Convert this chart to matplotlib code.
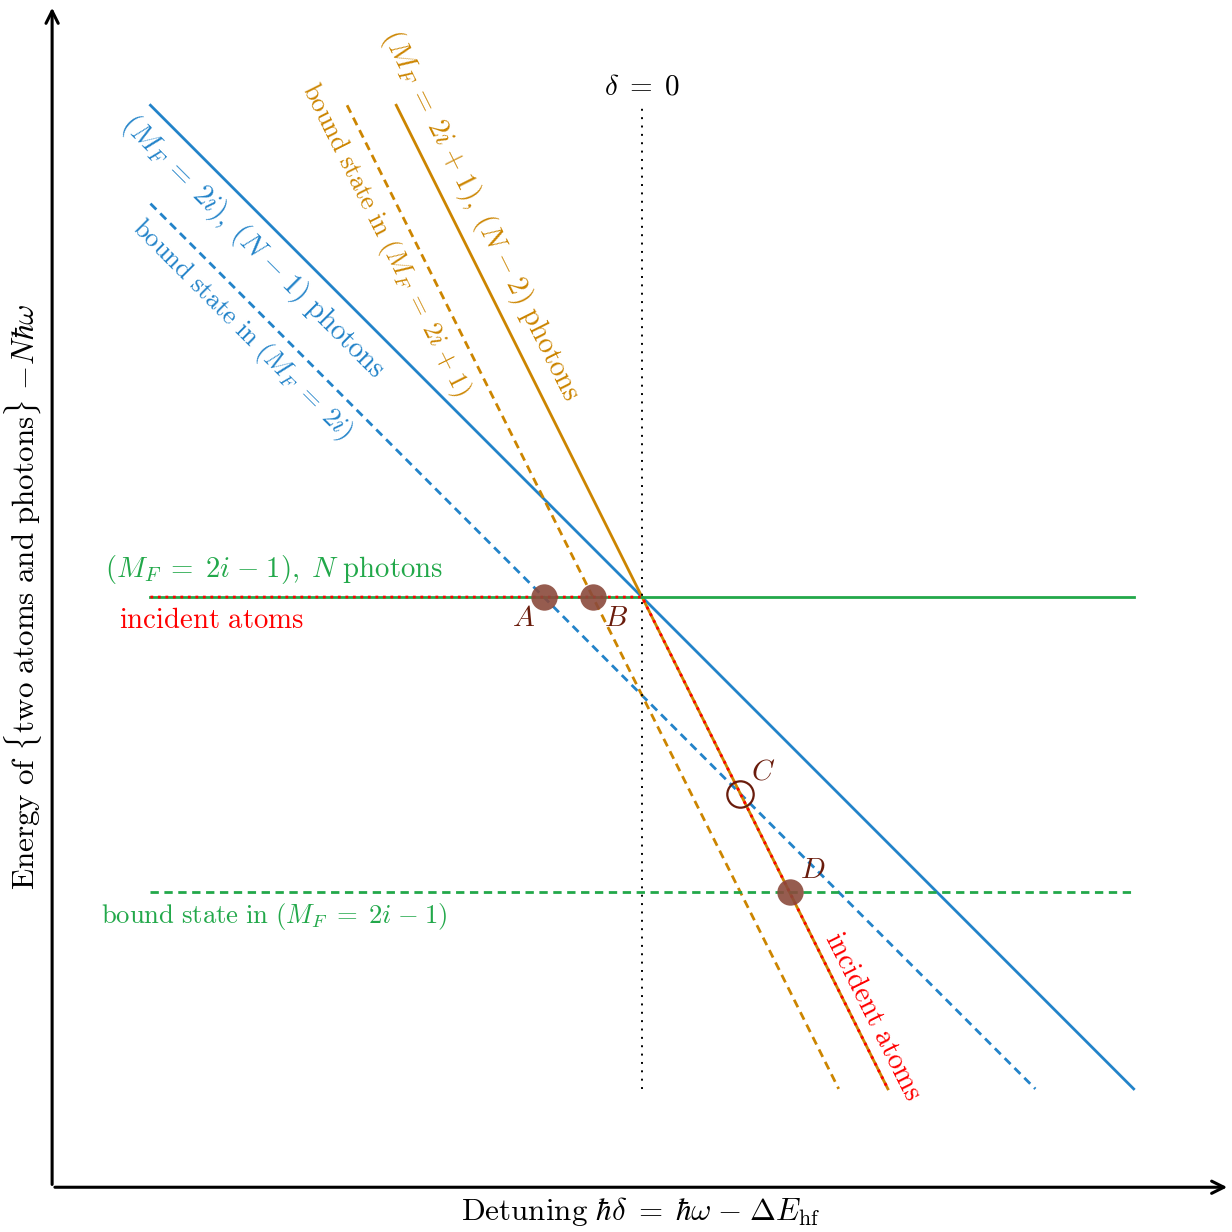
import numpy as np
import matplotlib.pyplot as plt

plt.rcParams['font.family'] = 'serif'
plt.rcParams['font.serif'] = ['cmr10']
plt.rcParams['mathtext.fontset'] = 'cm'
plt.rcParams['axes.unicode_minus'] = False

# line families y = slope*x + offset, drawn over x in [x_start, x_end]
x_span = [-10, 10]
blue_slope, blue_off, blue_bound_off = -1, 0, -2
orange_slope, orange_off, orange_bound_off = -2, 0, -2
green_level, green_bound_level = 0, -6
y_span = [-10, 10]

# special crossing points (detuning, energy)
pt_labels = ['A', 'B', 'C', 'D']
pt_x = [-2, -1, 2, 3]
pt_y = [0, 0, -4, -6]
pt_filled = [True, True, False, True]

blue = '#2283c9'
orange = '#cc8500'
green = '#22a84a'
red = '#ff0000'
brown = '#8b4a3c'
darkbrown = '#6a1c0c'

dpi = 100
fig = plt.figure(figsize=(1232/dpi, 1232/dpi), dpi=dpi)
ax = fig.add_axes([0, 0, 1, 1])
ax.set_xlim(-13.06, 12.0)
ax.set_ylim(-12.91, 12.14)
ax.axis('off')

def line_x(slope, off):
    # clip the line to the y range
    xa = (y_span[1] - off) / slope
    xb = (y_span[0] - off) / slope
    xa, xb = max(min(xa, xb), x_span[0]), min(max(xa, xb), x_span[1])
    return np.array([xa, xb])

def tx(s):
    # upright text inside mathtext, tex-like word spacing
    return r'\mathrm{' + s.replace(' ', r'\ ') + '}'

lw = 2.0
dash = (0, (3, 2))
# blue
xs = line_x(blue_slope, blue_off)
ax.plot(xs, blue_slope*xs + blue_off, color=blue, lw=lw)
xs = line_x(blue_slope, blue_bound_off)
ax.plot(xs, blue_slope*xs + blue_bound_off, color=blue, lw=lw, ls=dash)
# orange
xs = line_x(orange_slope, orange_off)
ax.plot(xs, orange_slope*xs + orange_off, color=orange, lw=lw)
xs = line_x(orange_slope, orange_bound_off)
ax.plot(xs, orange_slope*xs + orange_bound_off, color=orange, lw=lw, ls=dash)
# green
ax.plot(x_span, [green_level]*2, color=green, lw=lw)
ax.plot(x_span, [green_bound_level]*2, color=green, lw=lw, ls=dash)

# incident atoms path (red dotted)
xs_o = line_x(orange_slope, orange_off)
ax.plot([x_span[0], 0, xs_o[1]], [green_level, green_level, orange_slope*xs_o[1]],
        color=red, lw=2.0, ls=(0, (1, 1.7)))

# delta = 0
ax.plot([0, 0], y_span, color='black', lw=1.4, ls=(0, (1, 3.3)))
ax.text(0, 10.37, r'$\delta\;{=}\;0$', ha='center', va='center', fontsize=21)

# points
for lab, x, y, f in zip(pt_labels, pt_x, pt_y, pt_filled):
    if f:
        ax.plot(x, y, 'o', ms=19, color=brown, alpha=0.9, mec='none', zorder=5)
    else:
        ax.plot(x, y, 'o', ms=19, mfc='none', mec=darkbrown, mew=1.6, zorder=5)
offs = {'A': (-0.42, -0.45), 'B': (0.47, -0.45), 'C': (0.47, 0.44), 'D': (0.47, 0.44)}
for lab, x, y in zip(pt_labels, pt_x, pt_y):
    dx, dy = offs[lab]
    ax.text(x + dx, y + dy, '$' + lab + '$', color=darkbrown, fontsize=21,
            ha='center', va='center')

# labels
fs = 20.7
fs_small = 19.2
ang_b = -45
ang_o = -np.degrees(np.arctan(2))
EQ = r'\;{=}\;'
MI = r'\;{-}\;'
PL = r'\;{+}\;'
BS = tx('bound state in ')
PH = tx(' photons')
ax.text(-7.91, 7.12, rf'$(M_F{EQ}2i),\;(N{MI}1){PH}$', color=blue, fontsize=fs,
        rotation=ang_b, rotation_mode='anchor', ha='center', va='center')
ax.text(-8.13, 5.43, rf'${BS}(M_F{EQ}2i)$', color=blue, fontsize=fs_small,
        rotation=ang_b, rotation_mode='anchor', ha='center', va='center')
ax.text(-3.29, 7.77, rf'$(M_F{EQ}2i{PL}1),\;(N{MI}2){PH}$', color=orange, fontsize=fs,
        rotation=ang_o, rotation_mode='anchor', ha='center', va='center')
ax.text(-5.23, 7.26, rf'${BS}(M_F{EQ}2i{PL}1)$', color=orange, fontsize=fs_small,
        rotation=ang_o, rotation_mode='anchor', ha='center', va='center')
ax.text(-10.92, 0.57, rf'$(M_F{EQ}2i{MI}1),\;N{PH}$', color=green, fontsize=fs,
        ha='left', va='center')
ax.text(-10.64, -0.49, '$' + tx('incident atoms') + '$', color=red, fontsize=fs,
        ha='left', va='center')
ax.text(-11.0, -6.49, rf'${BS}(M_F{EQ}2i{MI}1)$', color=green, fontsize=fs_small,
        ha='left', va='center')
ax.text(4.68, -8.54, '$' + tx('incident atoms') + '$', color=red, fontsize=fs,
        rotation=ang_o, rotation_mode='anchor', ha='center', va='center')

# axes arrows
ax.annotate('', xy=(11.96, -12), xytext=(-12, -12),
            arrowprops=dict(arrowstyle='->', lw=2.2, color='black', mutation_scale=22))
ax.annotate('', xy=(-12, 12.04), xytext=(-12, -12),
            arrowprops=dict(arrowstyle='->', lw=2.2, color='black', mutation_scale=22))
ax.text(-0.02, -12.5,
        rf'${tx("Detuning ")}\hbar\delta{EQ}\hbar\omega{MI}\Delta E_{{\mathrm{{hf}}}}$',
        ha='center', va='center', fontsize=22.4)
ax.text(-12.6, 0.0,
        rf'${tx("Energy of ")}\{{{tx("two atoms and photons")}\}}\ {{-}}N\hbar\omega$',
        ha='center', va='center', rotation=90, fontsize=22.4)

fig.savefig('out.png', dpi=dpi)
